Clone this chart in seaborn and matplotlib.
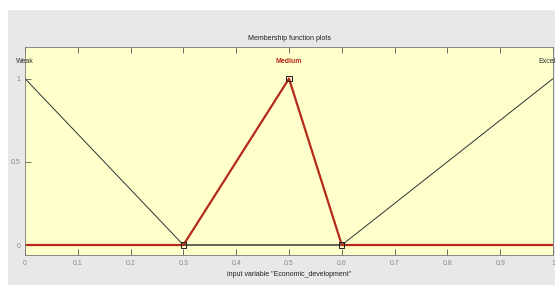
import matplotlib
matplotlib.use("Agg")
import matplotlib.pyplot as plt
import seaborn as sns
import pandas as pd
from matplotlib.patches import Rectangle

# membership functions of input "Economic_development"
x_weak = [0.0, 0.3, 1.0]
y_weak = [1.0, 0.0, 0.0]
x_medium = [0.0, 0.3, 0.5, 0.6, 1.0]
y_medium = [0.0, 0.0, 1.0, 0.0, 0.0]
x_excellent = [0.0, 0.6, 1.0]
y_excellent = [0.0, 0.0, 1.0]
# small square handles on the selected (Medium) function
x_handles = [0.3, 0.5, 0.6]
y_handles = [0.0, 1.0, 0.0]

mf_names = ["Weak", "Medium", "Excellent"]
mf_peaks = [0.0, 0.5, 1.0]

xticks = [0, 0.1, 0.2, 0.3, 0.4, 0.5, 0.6, 0.7, 0.8, 0.9, 1]
yticks = [0, 0.5, 1]

sns.set_theme(style="white")
plt.rcParams['font.family'] = ['Liberation Sans Narrow', 'Liberation Sans', 'DejaVu Sans']

fig = plt.figure(figsize=(5.55, 2.85), dpi=100, facecolor="white")
# gray panel of the fuzzy toolbox window
fig.patches.append(Rectangle((8 / 555, 0), 1, 1 - 10 / 285, transform=fig.transFigure,
                             facecolor="#e8e8e8", edgecolor="none", zorder=-10))
ax = fig.add_axes([25 / 555, 30 / 285, 528 / 555, 208 / 285])
ax.set_zorder(1)
ax.set_facecolor("#ffffcc")

df_weak = pd.DataFrame({"x": x_weak, "y": y_weak})
df_med = pd.DataFrame({"x": x_medium, "y": y_medium})
df_exc = pd.DataFrame({"x": x_excellent, "y": y_excellent})

sns.lineplot(data=df_weak, x="x", y="y", ax=ax, color="#303030", lw=0.7, sort=False)
sns.lineplot(data=df_exc, x="x", y="y", ax=ax, color="#303030", lw=0.7, sort=False)
sns.lineplot(data=df_med, x="x", y="y", ax=ax, color="#b52a1a", lw=1.6, sort=False)
sns.scatterplot(x=x_handles, y=y_handles, ax=ax, marker="s", s=14,
                facecolor="none", edgecolor="#202020", linewidth=0.7, zorder=5)

label_colors = ["#303030", "#b52a1a", "#303030"]
for name, px, c in zip(mf_names, mf_peaks, label_colors):
    ax.text(px, 1.1, name, ha="center", va="center", fontsize=5, color=c,
            fontweight="bold" if name == "Medium" else "normal", clip_on=False)

ax.set_xlim(0, 1)
ax.set_ylim(-0.06, 1.19)
ax.set_xticks(xticks)
ax.set_xticklabels([f"{t:g}" for t in xticks])
ax.set_yticks(yticks)
ax.set_yticklabels([f"{t:g}" for t in yticks])
ax.tick_params(axis="both", direction="in", length=4, width=0.6, labelsize=5,
               labelcolor="#888888", color="#555555", top=True, bottom=True, left=True)
for s in ax.spines.values():
    s.set_color("#777777")
    s.set_linewidth(0.6)

ax.set_xlabel('input variable "Economic_development"', fontsize=5, color="#202020", labelpad=3)
ax.set_ylabel("")
ax.set_title("Membership function plots", fontsize=5, color="#202020", pad=5)

fig.savefig("out.png", dpi=100, facecolor="white")
